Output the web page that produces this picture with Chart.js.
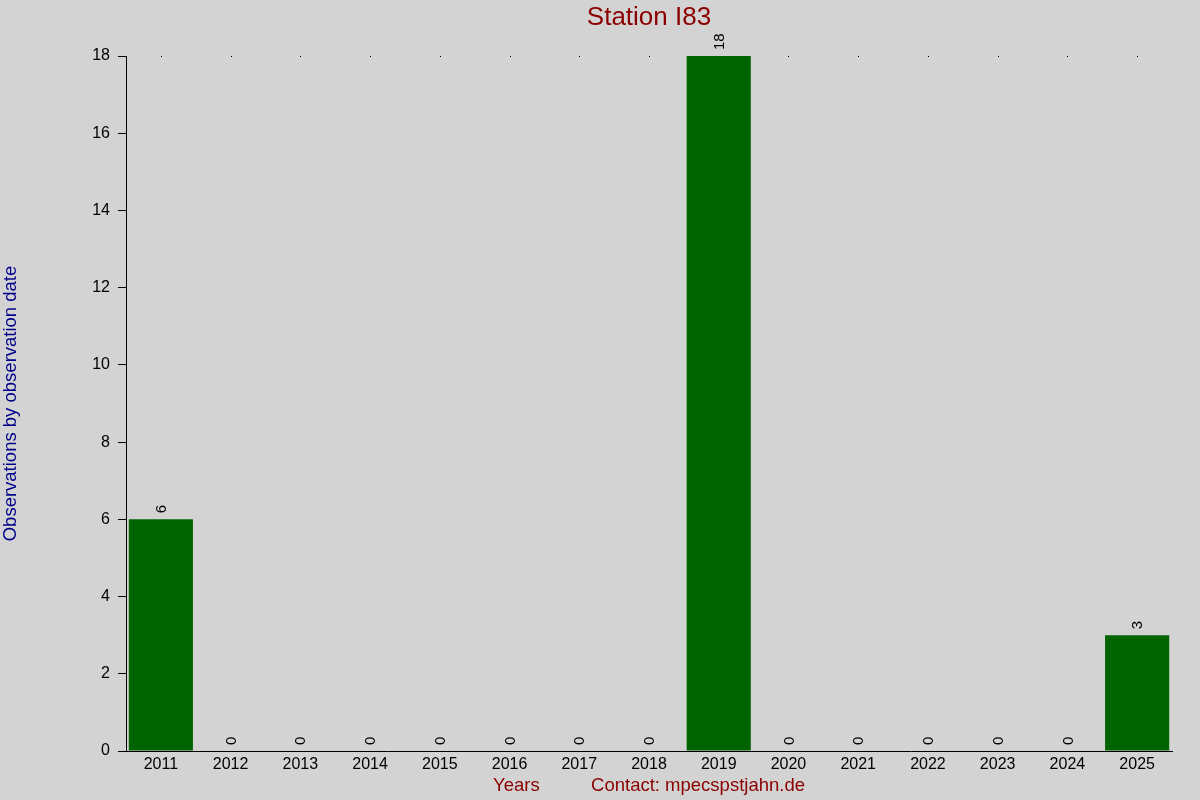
<!DOCTYPE html>
<html>
<head>
<meta charset="utf-8">
<script src="https://cdn.jsdelivr.net/npm/chart.js@4/dist/chart.umd.min.js"></script>
<style>
  body { margin: 0; background: #d3d3d3; }
  canvas { display: block; }
</style>
</head>
<body>
<canvas id="myChart" width="1200" height="800"></canvas>
<script>
const years = ['2011', '2012', '2013', '2014', '2015', '2016', '2017', '2018',
    '2019', '2020', '2021', '2022', '2023', '2024', '2025']
const observations = [6, 0, 0, 0, 0, 0, 0, 0, 18, 0, 0, 0, 0, 0, 3]
const yTicks = [0, 2, 4, 6, 8, 10, 12, 14, 16, 18]

const FONT = 'Liberation Sans, Arial, sans-serif'
const chartTitle = 'Station I83'

// grey page background + title centred over the plot area
const background = {
    id: 'background',
    beforeDraw(chart) {
        const ctx = chart.ctx
        ctx.save()
        ctx.fillStyle = '#d3d3d3'
        ctx.fillRect(0, 0, chart.width, chart.height)
        ctx.restore()
    },
    afterDraw(chart) {
        const ctx = chart.ctx
        const area = chart.chartArea
        ctx.save()
        ctx.fillStyle = '#8b0000'
        ctx.font = '26px ' + FONT
        ctx.textAlign = 'center'
        ctx.textBaseline = 'middle'
        ctx.fillText(chartTitle, (area.left + area.right) / 2, 18)
        ctx.restore()
    }
}

// small dots along the top (under the bars), rotated value above every bar
const barLabels = {
    id: 'barLabels',
    beforeDatasetsDraw(chart) {
        const ctx = chart.ctx
        const xScale = chart.scales.x
        ctx.save()
        ctx.fillStyle = '#000'
        years.forEach((y, i) => {
            ctx.fillRect(Math.round(xScale.getPixelForValue(i)), chart.chartArea.top, 1, 1)
        })
        ctx.restore()
    },
    afterDatasetsDraw(chart) {
        const ctx = chart.ctx
        const meta = chart.getDatasetMeta(0)
        ctx.save()
        ctx.fillStyle = '#000'
        ctx.font = '15px ' + FONT
        ctx.textAlign = 'left'
        ctx.textBaseline = 'middle'
        meta.data.forEach((bar, i) => {
            ctx.save()
            ctx.translate(bar.x + 1, bar.y - 6)
            ctx.rotate(-Math.PI / 2)
            ctx.fillText(String(observations[i]), 0, 0)
            ctx.restore()
        })
        ctx.restore()
    }
}

const config = {
    type: 'bar',
    data: {
        labels: years,
        datasets: [{
            data: observations,
            backgroundColor: '#006400',
            borderWidth: 0,
            categoryPercentage: 1,
            barPercentage: 0.92
        }]
    },
    options: {
        responsive: false,
        animation: false,
        layout: { padding: { right: 28, left: 0, top: 56, bottom: 0 } },
        plugins: {
            legend: { display: false },
            tooltip: { enabled: false },
            title: { display: false }
        },
        scales: {
            x: {
                grid: { display: false, drawTicks: false },
                border: { display: true, color: '#000', width: 1 },
                ticks: { color: '#000', font: { family: FONT, size: 16 }, padding: 4, maxRotation: 0 },
                title: {
                    display: true,
                    text: 'Years          Contact: mpecspstjahn.de',
                    color: '#8b0000',
                    font: { family: FONT, size: 18.5 },
                    padding: { top: 0, bottom: 3 }
                },
                afterFit(scale) { scale.height = 49 }
            },
            y: {
                min: 0,
                max: 18,
                afterBuildTicks(scale) { scale.ticks = yTicks.map(v => ({ value: v })) },
                grid: { drawOnChartArea: false, drawTicks: true, tickLength: 8, color: '#000' },
                border: { display: true, color: '#000', width: 1 },
                ticks: { color: '#000', font: { family: FONT, size: 16 }, padding: 8 },
                title: {
                    display: true,
                    text: 'Observations by observation date',
                    color: '#00008b',
                    font: { family: FONT, size: 18.5 },
                    padding: { top: 0, bottom: 0 }
                },
                afterFit(scale) { scale.width = 126 }
            }
        }
    },
    plugins: [background, barLabels]
}

const myChart = new Chart(document.getElementById('myChart'), config)
</script>
</body>
</html>
